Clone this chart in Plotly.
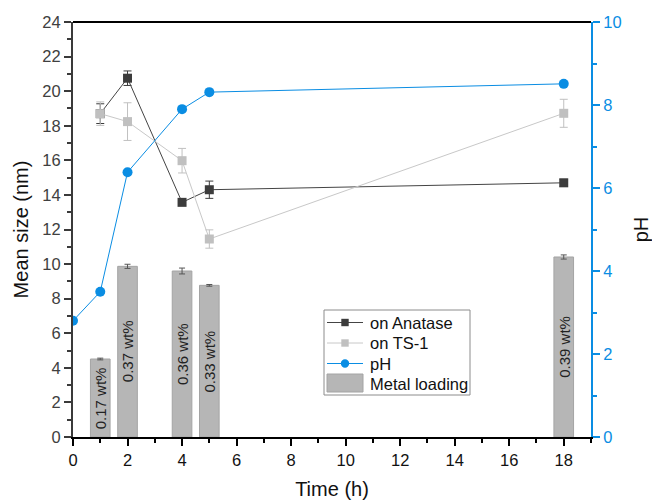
import plotly.graph_objects as go

time_points = [1, 2, 4, 5, 18]
anatase_size = [18.7, 20.75, 13.57, 14.3, 14.7]
anatase_err = [0.57, 0.42, 0.15, 0.5, 0.2]
ts1_size = [18.7, 18.24, 15.98, 11.45, 18.72]
ts1_err = [0.68, 1.09, 0.71, 0.53, 0.81]
ph_time = [0, 1, 2, 4, 5, 18]
ph_values = [2.8, 3.5, 6.38, 7.9, 8.31, 8.51]
loading_height = [4.51, 9.87, 9.6, 8.77, 10.41]
loading_err = [0.05, 0.12, 0.17, 0.05, 0.12]
loading_labels = ["0.17 wt%", "0.37 wt%", "0.36 wt%", "0.33 wt%", "0.39 wt%"]

legend_names = ["on Anatase", "on TS-1", "pH", "Metal loading"]

FONT = "Arial, Liberation Sans, sans-serif"
BLUE = "#0a8de3"
DARK = "#3c3c3c"
LIGHT = "#c0c0c0"
BARC = "#b6b6b6"

W, H = 652, 501
ML, MR, MT, MB = 73, 61, 22, 64
PW, PH = W - ML - MR, H - MT - MB


def px(xp):
    return (xp - ML) / PW


def py(yp):
    return (H - MB - yp) / PH


fig = go.Figure()

fig.add_trace(go.Bar(
    x=time_points, y=loading_height, width=0.72, name="Metal loading",
    marker=dict(color=BARC, line=dict(color="#a4a4a4", width=1)),
    error_y=dict(type="data", array=loading_err, color="#555555", thickness=1, width=3),
    showlegend=False, yaxis="y",
))

fig.add_trace(go.Scatter(
    x=time_points, y=anatase_size, name="on Anatase", mode="lines+markers",
    line=dict(color="#444444", width=1),
    marker=dict(symbol="square", size=9, color=DARK),
    error_y=dict(type="data", array=anatase_err, color=DARK, thickness=1, width=4),
    showlegend=False, yaxis="y",
))

fig.add_trace(go.Scatter(
    x=time_points, y=ts1_size, name="on TS-1", mode="lines+markers",
    line=dict(color="#c8c8c8", width=1),
    marker=dict(symbol="square", size=9, color=LIGHT),
    error_y=dict(type="data", array=ts1_err, color=LIGHT, thickness=1, width=4),
    showlegend=False, yaxis="y",
))

fig.add_trace(go.Scatter(
    x=ph_time, y=ph_values, name="pH", mode="lines+markers",
    line=dict(color=BLUE, width=1),
    marker=dict(symbol="circle", size=10, color=BLUE),
    showlegend=False, yaxis="y2",
))

# bar labels, centred vertically in each bar
for xt, ht, lab in zip(time_points, loading_height, loading_labels):
    fig.add_annotation(x=xt, y=ht / 2, xref="x", yref="y", text=lab, textangle=-90,
                       showarrow=False, xanchor="center", yanchor="middle",
                       font=dict(size=15, color="#222222", family=FONT))

fig.update_layout(
    width=W, height=H,
    margin=dict(l=ML, r=MR, t=MT, b=MB, autoexpand=False),
    paper_bgcolor="white", plot_bgcolor="white",
    font=dict(family=FONT, size=16, color="#222222"),
    showlegend=False,
    xaxis=dict(
        range=[0, 19], tickmode="linear", tick0=0, dtick=2, automargin=False,
        showline=True, linecolor="black", linewidth=2, mirror=False,
        ticks="outside", ticklen=7, tickwidth=2, tickcolor="black",
        minor=dict(dtick=1, ticks="outside", ticklen=4, tickwidth=1.5, tickcolor="black"),
        showgrid=False, zeroline=False,
        tickfont=dict(size=16.5, color="#111111"),
        title=dict(text="Time (h)", font=dict(size=20, color="#111111"), standoff=14),
    ),
    yaxis=dict(
        range=[0, 24], tickmode="linear", tick0=0, dtick=2, automargin=False,
        showline=True, linecolor="#3a3a3a", linewidth=2,
        ticks="outside", ticklen=7, tickwidth=2, tickcolor="#3a3a3a",
        minor=dict(dtick=1, ticks="outside", ticklen=4, tickwidth=1.5, tickcolor="#3a3a3a"),
        showgrid=False, zeroline=False,
        tickfont=dict(size=16.5, color="#404040"),
        title=dict(text="Mean size (nm)", font=dict(size=20, color="#111111"), standoff=8),
    ),
    yaxis2=dict(
        range=[0, 10], tickmode="linear", tick0=0, dtick=2, overlaying="y", side="right",
        automargin=False,
        showline=True, linecolor=BLUE, linewidth=2,
        ticks="outside", ticklen=7, tickwidth=2, tickcolor=BLUE,
        minor=dict(dtick=1, ticks="outside", ticklen=4, tickwidth=1.5, tickcolor=BLUE),
        showgrid=False, zeroline=False,
        tickfont=dict(size=16.5, color=BLUE),
        title=dict(text="pH", font=dict(size=20, color="#111111"), standoff=13),
    ),
)

# top frame line
fig.add_shape(type="line", xref="paper", yref="paper", x0=0, x1=1, y0=1, y1=1,
              line=dict(color="black", width=2))

# ---- legend box (drawn manually to match the compact original) ----
shapes = []
annots = []
shapes.append(dict(type="rect", xref="paper", yref="paper",
                   x0=px(324), x1=px(470), y0=py(395), y1=py(310),
                   line=dict(color="#8c8c8c", width=1), fillcolor="white", layer="above"))
row_y = [322.5, 343, 363.5, 383.5]
sym_x0, sym_x1, sym_xc = 327, 363, 345
legend_styles = [
    dict(line="#444444", marker="square", mcolor=DARK),
    dict(line="#c8c8c8", marker="square", mcolor=LIGHT),
    dict(line=BLUE, marker="circle", mcolor=BLUE),
    dict(bar=BARC),
]
for name, yy, st in zip(legend_names, row_y, legend_styles):
    if "bar" in st:
        shapes.append(dict(type="rect", xref="paper", yref="paper",
                           x0=px(sym_x0), x1=px(sym_x1), y0=py(392), y1=py(374),
                           line=dict(color="#a4a4a4", width=1), fillcolor=st["bar"], layer="above"))
    else:
        shapes.append(dict(type="line", xref="paper", yref="paper",
                           x0=px(sym_x0), x1=px(sym_x1), y0=py(yy), y1=py(yy),
                           line=dict(color=st["line"], width=1), layer="above"))
        r = 3.7 if st["marker"] == "square" else 4.2
        shapes.append(dict(type="rect" if st["marker"] == "square" else "circle",
                           xref="paper", yref="paper",
                           x0=px(sym_xc - r), x1=px(sym_xc + r), y0=py(yy + r), y1=py(yy - r),
                           line=dict(width=0), fillcolor=st["mcolor"], layer="above"))
    annots.append(dict(xref="paper", yref="paper", x=px(368), y=py(yy),
                       xanchor="left", yanchor="middle", showarrow=False, text=name,
                       font=dict(size=16.5, color="#111111", family=FONT)))

for s in shapes:
    fig.add_shape(**s)
for a in annots:
    fig.add_annotation(**a)

fig.write_html("out.html")
